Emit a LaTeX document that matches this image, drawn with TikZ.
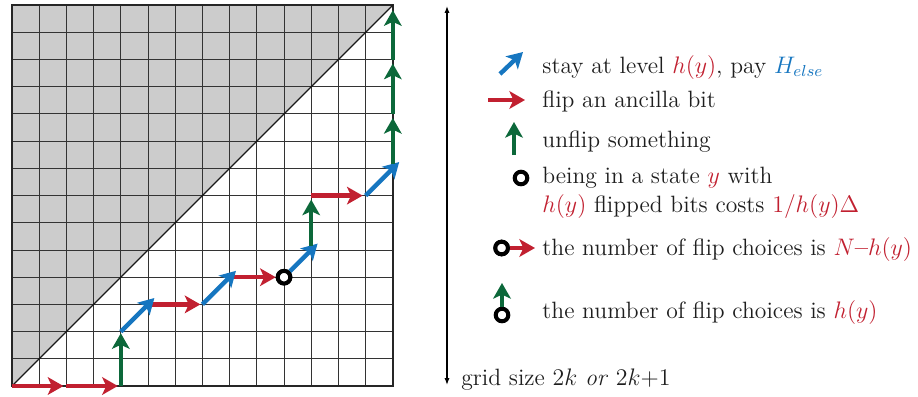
\documentclass[tikz,border=0pt]{standalone}
\usetikzlibrary{arrows.meta}
\definecolor{rd}{RGB}{193,32,48}
\definecolor{bl}{RGB}{22,118,192}
\definecolor{gn}{RGB}{12,104,58}
\definecolor{txt}{RGB}{30,30,30}
\definecolor{greyfill}{RGB}{204,204,204}
\begin{document}
\begin{tikzpicture}[x=1bp,y=1bp,
  arr/.style={line width=2.2bp, -{Stealth[length=7.8bp,width=8.8bp,inset=2bp]}},
  redarr/.style={arr, draw=rd},
  bluearr/.style={arr, draw=bl},
  greenarr/.style={arr, draw=gn},
  ring/.style={circle, draw=black, line width=2bp, fill=white, minimum size=6.3bp, inner sep=0pt},
  gridline/.style={draw=black!80, line width=0.5bp},
  lbl/.style={anchor=base west, inner sep=0pt, text=txt, font=\fontsize{11.85}{14.5}\selectfont},
]
\useasboundingbox (0,0) rectangle (459,198);

\begin{scope}[shift={(6bp,5bp)}, x=13.6bp, y=13.6bp]
  \fill[greyfill] (0,0) -- (14,14) -- (0,14) -- cycle;
  \foreach \i in {1,...,13} {
    \draw[gridline] (\i,0) -- (\i,14);
    \draw[gridline] (0,\i) -- (14,\i);
  }
  \draw[black!85, line width=0.9bp] (0,0) rectangle (14,14);
  \draw[black!90, line width=0.7bp] (0,0) -- (14,14);

  \coordinate (q0) at (0,0);
  \coordinate (q1) at (2,0);
  \coordinate (q2) at (4,0);
  \coordinate (q3) at (4,2);
  \coordinate (q4) at (5,3);
  \coordinate (q5) at (7,3);
  \coordinate (q6) at (8,4);
  \coordinate (q8) at (11,5);
  \coordinate (q9) at (11,7);
  \coordinate (q10) at (13,7);
  \coordinate (q11) at (14,8);
  \coordinate (q12) at (14,10);
  \coordinate (q13) at (14,12);
  \coordinate (q14) at (14,14);
  \node[ring] (c1) at (10,4) {};

  \draw[redarr, shorten >=1.5bp] (q0) -- (q1);
  \draw[redarr, shorten >=1.5bp] (q1) -- (q2);
  \draw[greenarr, shorten >=0.8bp] (q2) -- (q3);
  \draw[redarr, shorten <=2bp, shorten >=1bp] (q4) -- (q5);
  \draw[bluearr, shorten >=-4.5bp] (q3) -- (q4);
  \draw[redarr, shorten <=2bp] (q6) -- (c1);
  \draw[bluearr, shorten >=-4.5bp] (q5) -- (q6);
  \draw[bluearr, shorten >=-4.5bp] (c1) -- (q8);
  \draw[greenarr, shorten <=2bp, shorten >=2bp] (q8) -- (q9);
  \draw[redarr, shorten >=1.5bp] (q9) -- (q10);
  \draw[bluearr, shorten >=-4.5bp] (q10) -- (q11);
  \draw[greenarr, shorten <=2bp, shorten >=2bp] (q11) -- (q12);
  \draw[greenarr, shorten >=2bp] (q12) -- (q13);
  \draw[greenarr, shorten >=2.5bp] (q13) -- (q14);
  \node[ring] at (c1) {};
\end{scope}

% vertical size arrow
\coordinate (vt) at (223.5,195);
\coordinate (vb) at (223.5,5.5);
\draw[black, line width=0.6bp, {Latex[length=3.5bp,width=2.6bp]}-{Latex[length=3.5bp,width=2.6bp]}] (vt) -- (vb);
\node[lbl] (gs) at (230.5,5.5) {grid size $2k$ \textit{or} $2k{+}1$};

% legend
\coordinate (b1) at (250,161);
\coordinate (b2) at (261.5,172);
\draw[bluearr] (b1) -- (b2);
\node[lbl] (t1) at (271,161.5) {stay at level \textcolor{rd}{$h(y)$}, pay \textcolor{bl}{$H_{else}$}};

\coordinate (r1) at (244,148);
\coordinate (r2) at (262.5,148);
\draw[redarr] (r1) -- (r2);
\node[lbl] (t2) at (271,144.5) {flip an ancilla bit};

\coordinate (g1) at (257,120.5);
\coordinate (g2) at (257,137);
\draw[greenarr] (g1) -- (g2);
\node[lbl] (t3) at (271,124.5) {unflip something};

\node[ring] (c2) at (260.5,109) {};
\node[lbl] (t4) at (271,106.5) {being in a state \textcolor{rd}{$y$} with};
\node[lbl] (t5) at (271,92) {\textcolor{rd}{$h(y)$} flipped bits costs \textcolor{rd}{$1/h(y)\Delta$}};

\node[ring] (c3) at (250.8,74) {};
\coordinate (r3) at (267.5,74);
\draw[redarr] (c3) -- (r3);
\node[ring] at (c3) {};
\node[lbl] (t6) at (271,70.5) {the number of flip choices is \textcolor{rd}{$N$\textbf{--}$h(y)$}};

\node[ring] (c4) at (251,40.5) {};
\coordinate (g3) at (251,56.5);
\draw[greenarr] (c4) -- (g3);
\node[lbl] (t7) at (271,39) {the number of flip choices is \textcolor{rd}{$h(y)$}};
\end{tikzpicture}
\end{document}
